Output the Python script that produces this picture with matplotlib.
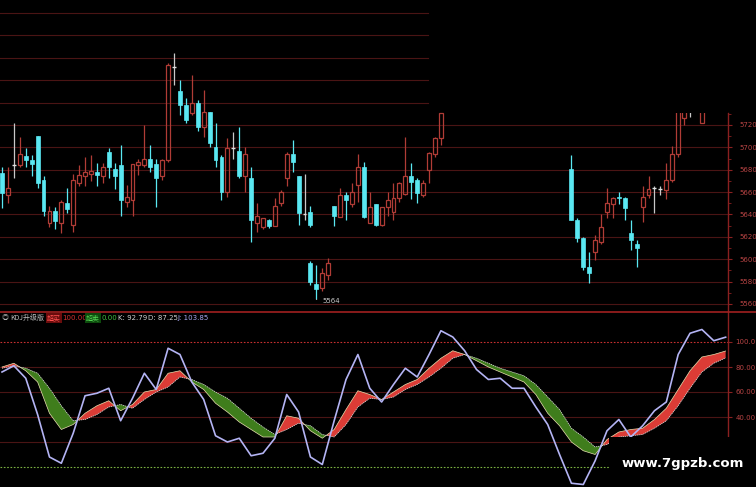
import matplotlib
matplotlib.use('Agg')
import matplotlib.pyplot as plt
from matplotlib.patches import Rectangle
from matplotlib.lines import Line2D

# ---- candle data (bar number, open, high, low, close) ----
bar_idx = [0, 1, 2, 3, 4, 5, 6, 7, 8, 9, 10, 11, 12, 13, 14, 15, 16, 17, 18, 19,
           20, 21, 22, 23, 24, 25, 26, 27, 28, 29, 30, 31, 32, 33, 34, 35, 36, 37, 38, 39,
           40, 41, 42, 43, 44, 45, 46, 47, 48, 49, 50, 51, 52,
           52, 53, 54, 55,
           56, 57, 58, 59, 60, 61, 62, 63, 64, 65, 66, 67, 68, 69, 70, 71, 72, 73, 74,
           96, 97, 98, 99, 100, 101, 102, 103, 104, 105, 106, 107, 108, 109, 110, 111,
           112, 113, 114, 115, 116, 118]
opens = [5677, 5657, 5684, 5684, 5692, 5689, 5710, 5671, 5632, 5643, 5632, 5650, 5631, 5668, 5674, 5676, 5678, 5674, 5696, 5681,
         5684, 5651, 5653, 5684, 5684, 5690, 5685, 5674, 5689, 5772, 5750, 5738, 5731, 5740, 5718, 5732, 5700, 5691, 5660, 5699,
         5697, 5674, 5673, 5632, 5629, 5635, 5630, 5650, 5673, 5694, 5674, 5640, 5642,
         5597, 5578, 5574, 5586,
         5648, 5638, 5657, 5649, 5666, 5682, 5632, 5649, 5631, 5647, 5642, 5655, 5658, 5674, 5671, 5657, 5680, 5694, 5708,
         5681, 5635, 5619, 5593, 5606, 5615, 5642, 5649, 5656, 5655, 5623, 5614, 5647, 5657, 5664, 5663,
         5662, 5671, 5694, 5726, 5745, 5722]
highs = [5682, 5682, 5722, 5709, 5699, 5693, 5710, 5674, 5648, 5647, 5653, 5664, 5676, 5684, 5691, 5693, 5686, 5686, 5699, 5686,
         5702, 5666, 5685, 5690, 5720, 5702, 5690, 5690, 5775, 5784, 5760, 5744, 5765, 5742, 5751, 5732, 5722, 5693, 5708, 5714,
         5718, 5700, 5682, 5650, 5637, 5636, 5655, 5662, 5696, 5707, 5674, 5676, 5648,
         5598, 5595, 5592, 5601,
         5648, 5664, 5660, 5668, 5694, 5687, 5660, 5649, 5647, 5660, 5668, 5669, 5709, 5686, 5673, 5671, 5696, 5709, 5731,
         5693, 5637, 5620, 5606, 5622, 5640, 5664, 5656, 5660, 5656, 5635, 5617, 5665, 5674, 5665, 5665,
         5686, 5701, 5750, 5750, 5750, 5750]
lows = [5646, 5650, 5673, 5682, 5682, 5674, 5664, 5639, 5629, 5627, 5623, 5641, 5624, 5665, 5665, 5670, 5665, 5668, 5673, 5663,
        5639, 5647, 5639, 5675, 5682, 5678, 5647, 5671, 5687, 5756, 5729, 5722, 5729, 5715, 5709, 5700, 5682, 5653, 5656, 5690,
        5673, 5660, 5615, 5624, 5627, 5628, 5630, 5648, 5665, 5678, 5631, 5635, 5629,
        5577, 5564, 5572, 5581,
        5630, 5638, 5635, 5647, 5651, 5637, 5632, 5630, 5630, 5639, 5635, 5651, 5657, 5654, 5650, 5656, 5668, 5691, 5702,
        5635, 5615, 5590, 5579, 5599, 5614, 5637, 5637, 5649, 5635, 5608, 5593, 5633, 5655, 5641, 5657,
        5654, 5669, 5691, 5720, 5727, 5722]
closes = [5659, 5664, 5684, 5694, 5689, 5685, 5668, 5643, 5643, 5634, 5651, 5645, 5671, 5675, 5678, 5679, 5675, 5682, 5682, 5674,
          5653, 5656, 5685, 5687, 5690, 5682, 5673, 5689, 5774, 5772, 5738, 5724, 5740, 5718, 5732, 5704, 5689, 5660, 5699, 5699,
          5674, 5694, 5635, 5639, 5637, 5630, 5648, 5660, 5694, 5687, 5641, 5640, 5631,
          5580, 5573, 5588, 5597,
          5639, 5657, 5653, 5660, 5682, 5638, 5647, 5631, 5647, 5653, 5655, 5668, 5674, 5669, 5659, 5668, 5695, 5708, 5731,
          5635, 5619, 5593, 5588, 5617, 5629, 5650, 5655, 5655, 5646, 5617, 5610, 5656, 5663, 5664, 5663,
          5671, 5694, 5745, 5745, 5745, 5745]
price_ticks = [5560, 5580, 5600, 5620, 5640, 5660, 5680, 5700, 5720]
grid_full = [5560, 5580, 5600, 5620, 5640, 5660, 5680, 5700, 5720]
grid_short = [5740, 5760, 5780, 5800, 5820]
low_mark = 5564

# ---- KDJ data, every second bar ----
kdj_idx = list(range(0, 123, 2))
K = [80, 83, 77, 68, 43, 30, 34, 43, 49, 53, 45, 50, 60, 62, 75, 77, 68, 62, 51, 44,
     36, 30, 24, 24, 41, 39, 29, 23, 30, 46, 61, 58, 54, 60, 66, 70, 79, 87, 93, 90,
     85, 80, 76, 72, 68, 58, 43, 33, 20, 13, 10, 22, 28, 30, 31, 38, 47, 62, 77, 88, 90, 92.79]
D = [79, 81, 79, 75, 63, 49, 37, 38, 42, 48, 50, 47, 54, 60, 64, 72, 70, 66, 60, 55,
     47, 39, 32, 26, 30, 35, 33, 26, 24, 34, 48, 55, 54, 56, 62, 66, 72, 79, 87, 90,
     87, 83, 79, 76, 73, 66, 56, 46, 31, 24, 16, 18, 24, 25, 26, 31, 37, 49, 63, 76, 83, 87.25]
J = [76, 81, 71, 42, 8, 3, 27, 57, 59, 63, 37, 55, 75, 62, 95, 90, 68, 54, 25, 20,
     23, 9, 11, 23, 58, 44, 8, 2, 37, 70, 90, 63, 52, 66, 79, 72, 90, 109, 104, 93,
     78, 70, 71, 63, 63, 48, 34, 10, -13, -14, 5, 29, 38, 24, 33, 45, 52, 90, 107, 110, 101, 103.85]
kdj_ticks = [40, 60, 80, 100]
kdj_labels = ['40.00', '60.00', '80.00', '100.0']
kdj_grid = [20, 40, 60, 80]
overbought = 100.00
oversold = 0.00

RED = '#b03c36'
CYAN = '#5ae8f2'
GRID = '#4a1414'
AXRED = '#8a2020'
LBL = '#b84444'

W, H = 756, 487
fig = plt.figure(figsize=(7.56, 4.87), dpi=100, facecolor='black')


def box(x0, y0, x1, y1):
    return [x0 / W, 1 - y1 / H, (x1 - x0) / W, (y1 - y0) / H]


ax = fig.add_axes(box(0, 0, 728, 311))
ax2 = fig.add_axes(box(0, 312, 728, 487))
for a in (ax, ax2):
    a.set_facecolor('black')
    a.set_xlim(-0.34, 122.4)
    a.set_xticks([])
    for s in ('top', 'left', 'bottom'):
        a.spines[s].set_visible(False)
    a.spines['right'].set_color(AXRED)
    a.spines['right'].set_linewidth(1.0)
    a.yaxis.tick_right()
    a.tick_params(axis='y', colors=AXRED, labelcolor=LBL, labelsize=5, length=3, pad=5)
ax2.tick_params(axis='y', pad=2.5)

# ---- price panel ----
ax.set_ylim(5553.7, 5831.7)
for g in grid_full:
    ax.axhline(g, color=GRID, lw=0.8, zorder=0)
for g in grid_short:
    ax.axhline(g, xmax=428 / 728, color=GRID, lw=0.8, zorder=0)

for i, o, h, l, c in zip(bar_idx, opens, highs, lows, closes):
    if c > o:
        ax.add_patch(Rectangle((i - 0.33, o), 0.66, c - o, fill=False, edgecolor=RED, lw=0.9, zorder=3))
        ax.vlines(i, l, o, color=RED, lw=0.9, zorder=3)
        ax.vlines(i, c, h, color=RED, lw=0.9, zorder=3)
    elif c < o:
        ax.vlines(i, l, h, color=CYAN, lw=0.9, zorder=3)
        ax.add_patch(Rectangle((i - 0.33, c), 0.66, o - c, facecolor=CYAN, edgecolor=CYAN, lw=0.5, zorder=3))
    else:
        ax.vlines(i, l, h, color='#c8c8c8', lw=0.9, zorder=3)
        ax.hlines(o, i - 0.33, i + 0.33, color='#e0e0e0', lw=1.0, zorder=3)

ax.annotate(str(low_mark), xy=(53, low_mark), xytext=(54.0, low_mark - 1),
            color='#c8c8c8', fontsize=5, va='center',
            arrowprops=dict(arrowstyle='-', color='#c8c8c8', lw=0.6))

# composite mask above the right part of the price panel
ax.add_patch(Rectangle((74.5, 5731), 60, 200, facecolor='black', edgecolor='none', zorder=20))
ax.set_yticks(price_ticks)
ax.set_yticks([p + 10 for p in price_ticks], minor=True)
ax.tick_params(axis='y', which='minor', colors=AXRED, length=2)
ax.spines['right'].set_bounds(5553.7, 5731)

# ---- KDJ panel ----
ax2.set_ylim(-16, 124)
for g in kdj_grid:
    ax2.axhline(g, color=GRID, lw=0.8, zorder=0)
ax2.axhline(overbought, color='#c83030', lw=0.8, ls=(0, (1.5, 1.5)), zorder=1)
ax2.axhline(oversold, color='#7ab040', lw=0.8, ls=(0, (1.5, 1.5)), zorder=1)

ax2.fill_between(kdj_idx, K, D, where=[k >= d for k, d in zip(K, D)], interpolate=True,
                 facecolor='#dc3c36', edgecolor='none', zorder=2)
ax2.fill_between(kdj_idx, K, D, where=[k < d for k, d in zip(K, D)], interpolate=True,
                 facecolor='#3f7d1c', edgecolor='none', zorder=2)
ax2.plot(kdj_idx, K, color='#e8e0b0', lw=0.5, zorder=3)
ax2.plot(kdj_idx, D, color='#e8e8e8', lw=0.5, ls=(0, (2, 1)), zorder=3)
ax2.plot(kdj_idx, J, color='#b4b4f4', lw=1.2, zorder=4)
ax2.set_yticks(kdj_ticks)
ax2.set_yticklabels(kdj_labels)
ax2.spines['right'].set_bounds(24, 124)

# separator between panels
fig.add_artist(Line2D([0, 1], [1 - 312 / H, 1 - 312 / H], transform=fig.transFigure,
                      color='#a02020', lw=1.2))

# ---- header ----
cjk = ['Noto Sans CJK SC', 'DejaVu Sans']
ty = 1 - 318 / H
fs = 5
fig.text(2 / W, ty, '◎', color='#b0b0b0', fontsize=fs, va='center', family=cjk)
fig.text(10 / W, ty, 'KDJ升级版', color='#c0c0c0', fontsize=fs, va='center', family=cjk)
fig.text(47 / W, ty, '超买', color='#ff5050', fontsize=fs, va='center', family=cjk,
         bbox=dict(facecolor='#6a0c0c', edgecolor='none', pad=0.4))
fig.text(62 / W, ty, f'{overbought:.2f}', color='#d03030', fontsize=fs, va='center')
fig.text(86 / W, ty, '超卖', color='#50d050', fontsize=fs, va='center', family=cjk,
         bbox=dict(facecolor='#0c4a0c', edgecolor='none', pad=0.4))
fig.text(101 / W, ty, f'{oversold:.2f}', color='#40c040', fontsize=fs, va='center')
fig.text(118 / W, ty, f'K: {K[-1]:.2f}', color='#d0d0d0', fontsize=fs, va='center')
fig.text(148 / W, ty, f'D: {D[-1]:.2f}', color='#d0d0d0', fontsize=fs, va='center')
fig.text(177 / W, ty, f'J: {J[-1]:.2f}', color='#a8a8f0', fontsize=fs, va='center')

# watermark box in the lower right
fig.add_artist(Rectangle((609 / W, 0), (W - 609) / W, 50 / H, transform=fig.transFigure,
                         facecolor='black', edgecolor='none', zorder=30))
fig.text(683 / W, 1 - 463 / H, 'www.7gpzb.com', color='white', fontsize=9.5,
         fontweight='bold', ha='center', va='center', zorder=31)

fig.savefig('out.png', dpi=100, facecolor='black')
